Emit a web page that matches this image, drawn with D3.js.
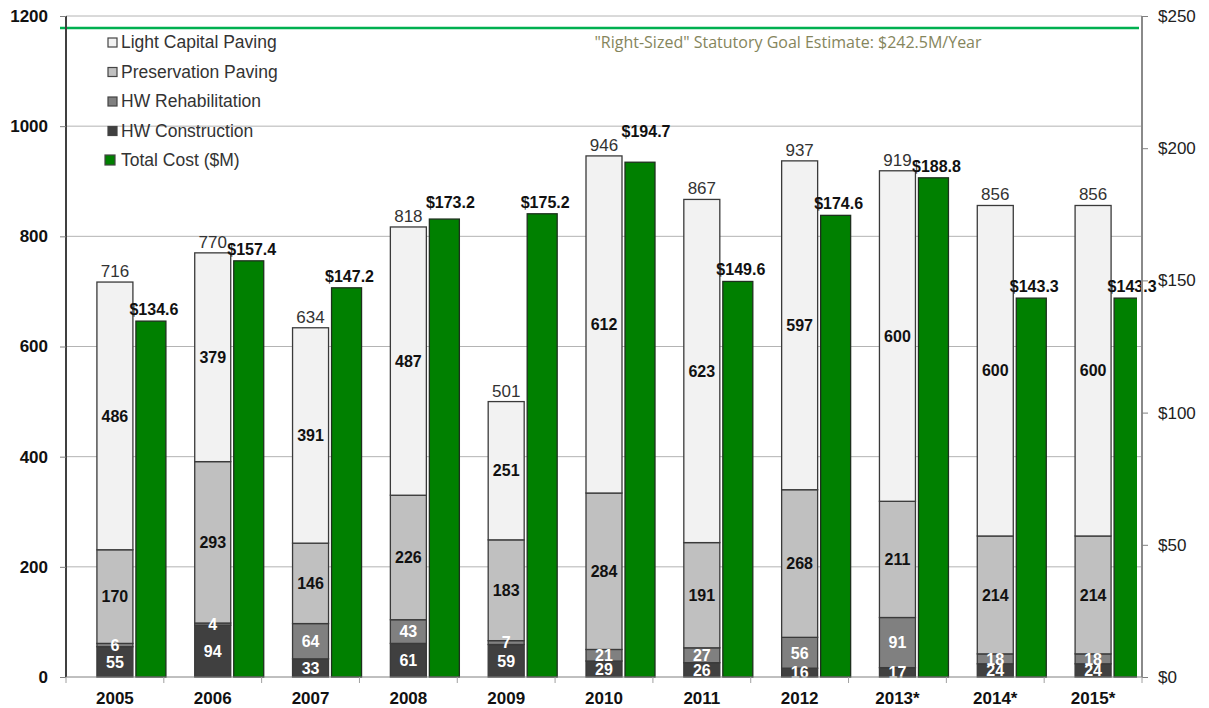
<!DOCTYPE html>
<html>
<head>
<meta charset="utf-8">
<script src="https://cdn.jsdelivr.net/npm/d3@7"></script>
<style>
  body { margin: 0; background: #fff; }
  text { font-family: "Liberation Sans", Arial, sans-serif; }
</style>
</head>
<body>
<svg id="main-svg"></svg>
<script>
let years = ['2005', '2006', '2007', '2008', '2009', '2010', '2011', '2012', '2013*', '2014*', '2015*'];
let hwConstruction = [55, 94, 33, 61, 59, 29, 26, 16, 17, 24, 24];
let hwRehab = [6, 4, 64, 43, 7, 21, 27, 56, 91, 18, 18];
let preservation = [170, 293, 146, 226, 183, 284, 191, 268, 211, 214, 214];
let lightCapital = [486, 379, 391, 487, 251, 612, 623, 597, 600, 600, 600];
let totalLabels = [716, 770, 634, 818, 501, 946, 867, 937, 919, 856, 856];
let totalCost = [134.6, 157.4, 147.2, 173.2, 175.2, 194.7, 149.6, 174.6, 188.8, 143.3, 143.3];
let leftTicks = [0, 200, 400, 600, 800, 1000, 1200];
let rightTicks = [0, 50, 100, 150, 200, 250];
let goalLine = 245.5; // where the line sits in the picture
let goalText = '"Right-Sized" Statutory Goal Estimate: $242.5M/Year';
// years whose $ label was pushed above the total label
let liftedCostLabels = ['2008', '2010'];

let series = [
  { name: 'HW Construction', values: hwConstruction, fill: '#404040', label: '#fff' },
  { name: 'HW Rehabilitation', values: hwRehab, fill: '#808080', label: '#fff' },
  { name: 'Preservation Paving', values: preservation, fill: '#c0c0c0', label: '#111' },
  { name: 'Light Capital Paving', values: lightCapital, fill: '#f2f2f2', label: '#111' }
];

let width = 1209;
let height = 708;
let plotLeft = 66, plotRight = 1142, plotTop = 16, plotBottom = 677;

let svg = d3.select('#main-svg')
  .attr('width', width)
  .attr('height', height);

let x = d3.scaleBand().domain(years).range([plotLeft, plotRight]);
let y = d3.scaleLinear().domain([0, 1200]).range([plotBottom, plotTop]);
let y2 = d3.scaleLinear().domain([0, 250]).range([plotBottom, plotTop]);

// gridlines
svg.append('g')
  .selectAll('line')
  .data(leftTicks.slice(1))
  .join('line')
    .attr('x1', plotLeft).attr('x2', plotRight)
    .attr('y1', d => y(d)).attr('y2', d => y(d))
    .style('stroke', '#b4b4b4');

svg.append('clipPath').attr('id', 'plot-clip')
  .append('rect')
    .attr('x', plotLeft).attr('y', 0)
    .attr('width', plotRight - plotLeft - 5).attr('height', plotBottom + 4);

// stacked bars
let rows = years.map((yr, i) => {
  let r = { year: yr };
  series.forEach(s => { r[s.name] = s.values[i]; });
  return r;
});
let stacked = d3.stack().keys(series.map(s => s.name))(rows);
let stackW = 36;
let costW = 30;

let stackG = svg.append('g');
stacked.forEach((layer, li) => {
  let s = series[li];
  stackG.append('g')
    .selectAll('rect')
    .data(layer)
    .join('rect')
      .attr('x', d => x(d.data.year) + x.bandwidth() / 2 - stackW / 2)
      .attr('y', d => y(d[1]))
      .attr('width', stackW)
      .attr('height', d => y(d[0]) - y(d[1]))
      .style('fill', s.fill)
      .style('stroke', '#3a3a3a')
      .style('stroke-width', 1.3);
});

// cost bars
svg.append('g')
  .attr('clip-path', 'url(#plot-clip)')
  .selectAll('rect')
  .data(totalCost)
  .join('rect')
    .attr('x', (d, i) => x(years[i]) + x.bandwidth() / 2 + 21)
    .attr('y', d => y2(d))
    .attr('width', costW)
    .attr('height', d => plotBottom - y2(d))
    .style('fill', '#008000')
    .style('stroke', '#1e301e')
    .style('stroke-width', 1.3);

// segment labels
stacked.forEach((layer, li) => {
  let s = series[li];
  svg.append('g')
    .selectAll('text')
    .data(layer)
    .join('text')
      .attr('x', d => x(d.data.year) + x.bandwidth() / 2)
      .attr('y', d => (y(d[0]) + y(d[1])) / 2)
      .attr('dy', '0.36em')
      .attr('text-anchor', 'middle')
      .style('font-size', '16px')
      .style('font-weight', 'bold')
      .style('fill', s.label)
      .text(d => d[1] - d[0]);
});

// total labels
let totalY = (i) => y(d3.sum(series, s => s.values[i])) - 5;
svg.append('g')
  .selectAll('text')
  .data(totalLabels)
  .join('text')
    .attr('x', (d, i) => x(years[i]) + x.bandwidth() / 2)
    .attr('y', (d, i) => totalY(i))
    .attr('text-anchor', 'middle')
    .style('font-size', '17px')
    .style('fill', '#333')
    .text(d => d);

// cost labels
svg.append('g')
  .selectAll('text')
  .data(totalCost)
  .join('text')
    .attr('x', (d, i) => x(years[i]) + x.bandwidth() / 2 + 21 + costW / 2 + (liftedCostLabels.includes(years[i]) ? 6 : 3))
    .attr('y', (d, i) => liftedCostLabels.includes(years[i]) ? totalY(i) - 14 : y2(d) - 6)
    .attr('text-anchor', 'middle')
    .style('font-size', '16px')
    .style('font-weight', 'bold')
    .style('fill', '#111')
    .text(d => '$' + d.toFixed(1));

// goal line
svg.append('line')
  .attr('x1', plotLeft - 6).attr('x2', plotRight - 3)
  .attr('y1', y2(goalLine)).attr('y2', y2(goalLine))
  .style('stroke', '#00b050')
  .style('stroke-width', 2.5);

svg.append('text')
  .attr('x', 788)
  .attr('y', 48)
  .attr('text-anchor', 'middle')
  .style('font-family', '"Open Sans", sans-serif')
  .style('font-size', '16px')
  .style('fill', '#85855c')
  .text(goalText);

// axes
let leftAxis = svg.append('g')
  .attr('transform', `translate(${plotLeft},0)`)
  .call(d3.axisLeft(y).tickValues(leftTicks).tickSize(6).tickPadding(12).tickFormat(d3.format('d')));
leftAxis.select('.domain').style('stroke', '#404040').style('stroke-width', 2)
  .attr('d', `M0,${plotTop}V${plotBottom}`);
leftAxis.selectAll('.tick line').style('stroke', '#808080');
leftAxis.selectAll('text')
  .style('font-family', '"Liberation Sans", Arial, sans-serif')
  .style('font-size', '17px').style('font-weight', 'bold').style('fill', '#111');

let rightAxis = svg.append('g')
  .attr('transform', `translate(${plotRight},0)`)
  .call(d3.axisRight(y2).tickValues(rightTicks).tickSize(6).tickPadding(10).tickFormat(d => '$' + d));
rightAxis.select('.domain').style('stroke', '#8a8a8a').style('stroke-width', 2)
  .attr('d', `M0,${plotTop}V${plotBottom}`);
rightAxis.selectAll('.tick line').style('stroke', '#808080');
rightAxis.selectAll('text')
  .style('font-family', '"Liberation Sans", Arial, sans-serif')
  .style('font-size', '17px').style('fill', '#222');

let bottomAxis = svg.append('g')
  .attr('transform', `translate(0,${plotBottom})`)
  .call(d3.axisBottom(x).tickSize(0).tickPadding(15));
bottomAxis.select('.domain').style('stroke', '#808080').attr('d', `M${plotLeft},0H${plotRight}`);
bottomAxis.selectAll('text')
  .style('font-family', '"Liberation Sans", Arial, sans-serif')
  .style('font-size', '17px').style('font-weight', 'bold').style('fill', '#111');
bottomAxis.append('g')
  .selectAll('line')
  .data(years.concat(['end']))
  .join('line')
    .attr('x1', (d, i) => plotLeft + i * x.bandwidth())
    .attr('x2', (d, i) => plotLeft + i * x.bandwidth())
    .attr('y1', 0).attr('y2', 6)
    .style('stroke', '#a0a0a0');

// legend
let legendItems = series.slice().reverse().map(s => ({ name: s.name, fill: s.fill, size: 9 }));
legendItems.push({ name: 'Total Cost ($M)', fill: '#008000', size: 10 });
let legend = svg.append('g');
legendItems.forEach((item, i) => {
  let base = 48 + i * 29.5;
  legend.append('rect')
    .attr('x', item.size === 10 ? 105 : 108)
    .attr('y', base - item.size - 1)
    .attr('width', item.size).attr('height', item.size)
    .style('fill', item.fill)
    .style('stroke', '#444')
    .style('stroke-width', 1.2);
  legend.append('text')
    .attr('x', 121)
    .attr('y', base)
    .style('font-size', '17.5px')
    .style('fill', '#333')
    .text(item.name);
});
</script>
</body>
</html>
